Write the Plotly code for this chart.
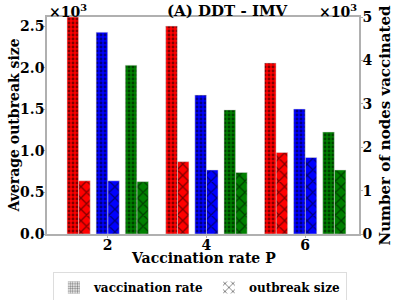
import plotly.graph_objects as go

P = [2, 4, 6]
colors = ["#ff0000", "#0000ff", "#008000"]
# nodes vaccinated (x10^3), right axis — dotted bars
vacc = [
    [5.00, 4.79, 3.94],   # red
    [4.65, 3.20, 2.88],   # blue
    [3.89, 2.86, 2.35],   # green
]
# average outbreak size (x10^3), left axis — cross-hatched bars
outb = [
    [0.64, 0.87, 0.98],
    [0.64, 0.77, 0.92],
    [0.63, 0.74, 0.77],
]
left_ticks = [0, 0.5, 1.0, 1.5, 2.0, 2.5]
right_ticks = [0, 1, 2, 3, 4, 5]

FONT = "DejaVu Serif"
BOLD14 = dict(family=FONT, size=14, weight="bold", color="black")
fig = go.Figure()
shift = [-0.59, 0.0, 0.59]
bw = 0.235
for i, c in enumerate(colors):
    xs = [p + shift[i] for p in P]
    fig.add_trace(go.Bar(x=xs, y=vacc[i], yaxis="y2", offset=-bw, width=bw,
                         marker=dict(color=c, line=dict(width=0.5, color="#dddddd"),
                                     pattern=dict(shape=".", fgcolor="black", bgcolor=c, size=4, solidity=0.4)),
                         showlegend=False))
    fig.add_trace(go.Bar(x=xs, y=outb[i], yaxis="y", offset=0, width=bw,
                         marker=dict(color=c, line=dict(width=0.5, color="#dddddd"),
                                     pattern=dict(shape="x", fgcolor="black", bgcolor=c, size=8, solidity=0.3)),
                         showlegend=False))

fig.add_trace(go.Bar(x=[None], y=[None], name="vaccination rate",
                     marker=dict(color="white", line=dict(width=0),
                                 pattern=dict(shape=".", fgcolor="black", bgcolor="white", size=3, solidity=0.5))))
fig.add_trace(go.Bar(x=[None], y=[None], name="outbreak size",
                     marker=dict(color="white", line=dict(width=0),
                                 pattern=dict(shape="x", fgcolor="black", bgcolor="white", size=7, solidity=0.3))))

axis_common = dict(showline=True, linecolor="#b0b0b0", linewidth=1.5, ticks="outside",
                   ticklen=2, tickcolor="#b0b0b0", showgrid=False, zeroline=False,
                   automargin=False, tickfont=BOLD14)
fig.update_layout(
    width=399, height=300,
    margin=dict(l=47, r=40, t=17, b=66, autoexpand=False),
    barmode="overlay",
    plot_bgcolor="white", paper_bgcolor="white",
    font=dict(family=FONT, size=13, color="black"),
    xaxis=dict(range=[0.77, 7.09], tickvals=P, mirror=True, ticklabelstandoff=-5, **axis_common),
    yaxis=dict(range=[0, 2.61], tickvals=left_ticks, tickformat=".1f", ticklabelstandoff=-4, **axis_common),
    yaxis2=dict(range=[0, 5], tickvals=right_ticks, overlaying="y", side="right",
                ticklabelstandoff=-3, **axis_common),
    legend=dict(orientation="h", x=0.49, xanchor="center", y=-0.175, yanchor="top",
                bordercolor="#dddddd", borderwidth=1,
                font=dict(family=FONT, size=12, weight="bold")),
    annotations=[
        dict(text="<b>(A) DDT - IMV</b>", xref="paper", yref="paper", x=0.58, y=1.0,
             xanchor="center", yanchor="bottom", showarrow=False,
             font=dict(family=FONT, size=15, weight="bold"), yshift=-5),
        dict(text="<b>×10<sup>3</sup></b>", xref="paper", yref="paper", x=0.0, y=1.0,
             xanchor="left", yanchor="bottom", showarrow=False, font=BOLD14, yshift=-5),
        dict(text="<b>×10<sup>3</sup></b>", xref="paper", yref="paper", x=1.0, y=1.0,
             xanchor="right", yanchor="bottom", showarrow=False, font=BOLD14, yshift=-5),
        dict(text="<b>Average outbreak size</b>", xref="paper", yref="paper", x=0, y=0.5,
             xanchor="center", yanchor="middle", textangle=-90, showarrow=False,
             font=dict(family=FONT, size=14, weight="bold"), xshift=-34),
        dict(text="<b>Number of nodes vaccinated</b>", xref="paper", yref="paper", x=1, y=0.5,
             xanchor="center", yanchor="middle", textangle=-90, showarrow=False,
             font=dict(family=FONT, size=15, weight="bold"), xshift=25),
        dict(text="<b>Vaccination rate P</b>", xref="paper", yref="paper", x=0.5, y=0,
             xanchor="center", yanchor="middle", showarrow=False,
             font=BOLD14, yshift=-24),
    ],
)
fig.write_html("out.html", config={"displayModeBar": False},
               post_script="document.body.style.margin='0';")
